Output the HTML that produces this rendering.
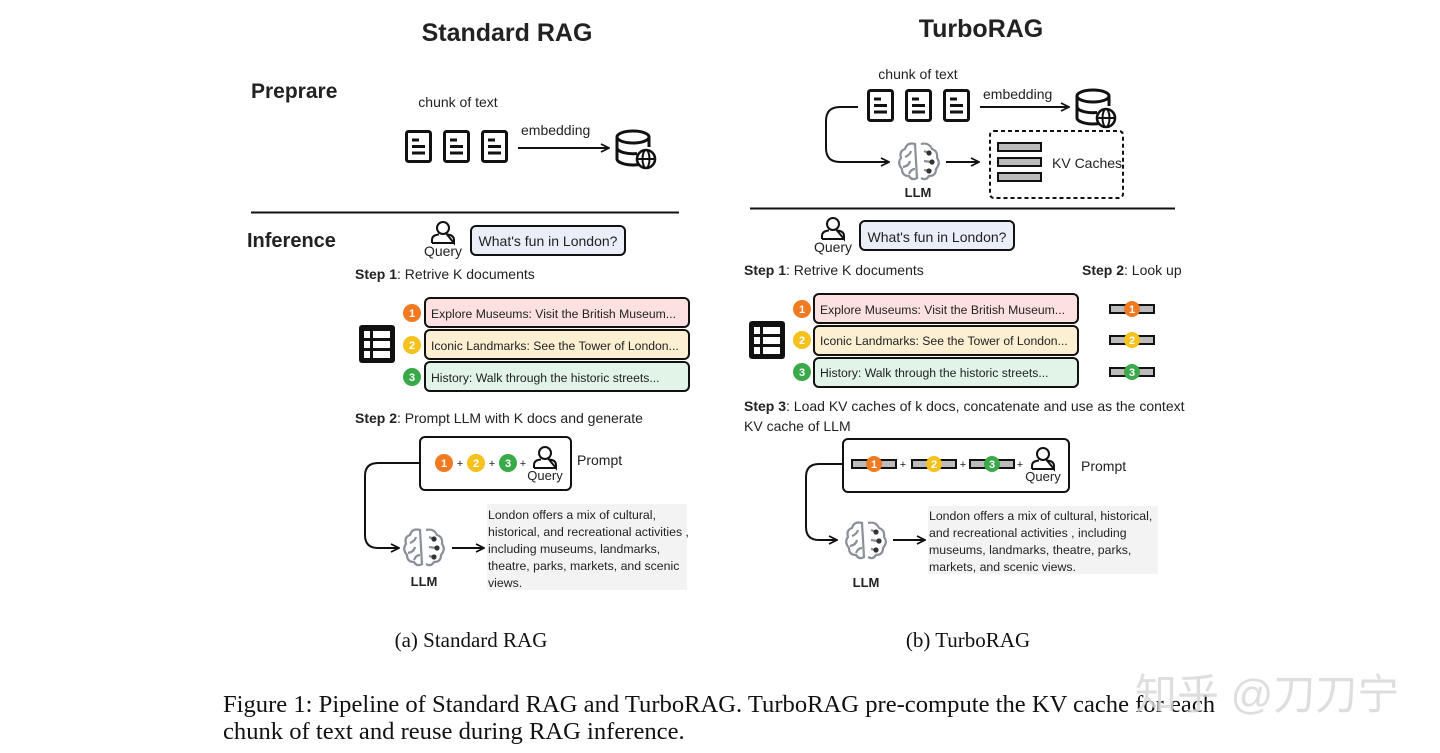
<!DOCTYPE html>
<html><head><meta charset="utf-8"><style>
html,body{margin:0;padding:0;background:#fff;}
svg{display:block}
text{font-family:"Liberation Sans","DejaVu Sans",sans-serif;fill:#222}
.b{font-weight:bold}
.serif{font-family:"Liberation Serif",serif;fill:#111}
</style></head><body>
<svg width="1440" height="753" viewBox="0 0 1440 753" xmlns="http://www.w3.org/2000/svg">
<defs>
<marker id="ar" viewBox="0 0 10 10" refX="9" refY="5" markerWidth="10" markerHeight="10" markerUnits="userSpaceOnUse" orient="auto"><path d="M1,1 L9,5 L1,9" fill="none" stroke="#111" stroke-width="1.8"/></marker>
<g id="doc"><rect x="1.5" y="1.5" width="24" height="30" rx="2" fill="#fff" stroke="#111" stroke-width="3"/><line x1="7" y1="10" x2="14" y2="10" stroke="#111" stroke-width="3"/><line x1="7" y1="16.5" x2="20" y2="16.5" stroke="#111" stroke-width="3"/><line x1="7" y1="23" x2="20" y2="23" stroke="#111" stroke-width="3"/></g>
<g id="db"><ellipse cx="18" cy="7" rx="16" ry="6" fill="#fff" stroke="#111" stroke-width="3"/><path d="M2,7 V29 A16,6 0 0 0 24,34.5 M2,18 A16,6 0 0 0 22,23.5 M34,7 V17" fill="none" stroke="#111" stroke-width="3"/><circle cx="31" cy="29" r="9" fill="#fff" stroke="#111" stroke-width="2.6"/><ellipse cx="31" cy="29" rx="3.5" ry="9" fill="none" stroke="#111" stroke-width="2"/><line x1="22" y1="29" x2="40" y2="29" stroke="#111" stroke-width="2"/></g>
<g id="person"><circle cx="0" cy="-5" r="6" fill="#fff" stroke="#111" stroke-width="2"/><path d="M-11,10 V7 Q-11,2 -4,1.5 M4,1.5 Q11,2 11,7 V10 Z M-11,10 H11" fill="none" stroke="#111" stroke-width="2"/></g>
<g id="table"><rect x="2" y="2" width="36" height="38" rx="3" fill="#111"/><rect x="7" y="8" width="6" height="7" fill="#fff"/><rect x="16" y="8" width="17" height="7" fill="#fff"/><rect x="7" y="18" width="6" height="7" fill="#fff"/><rect x="16" y="18" width="17" height="7" fill="#fff"/><rect x="7" y="28" width="6" height="7" fill="#fff"/><rect x="16" y="28" width="17" height="7" fill="#fff"/></g>
<g id="brain"><g fill="none" stroke="#8a9099" stroke-width="2.2"><path d="M-4,-17 Q-12,-19 -14,-12 Q-20,-10 -18,-3 Q-22,2 -17,8 Q-17,15 -10,15 Q-7,20 -2,17 Z"/><path d="M2,-17 Q10,-19 13,-12 Q19,-10 18,-3 Q22,2 17,8 Q17,15 10,15 Q7,20 2,17"/><path d="M-14,-4 Q-9,-6 -8,-10 M-16,6 Q-10,5 -9,0 M-10,13 Q-8,8 -4,8"/><path d="M5,-10 L10,-8 M5,0 L12,1 M5,9 L10,10"/></g><circle cx="10" cy="-8" r="2.6" fill="#333"/><circle cx="13" cy="1" r="2.6" fill="#333"/><circle cx="10" cy="10" r="2.6" fill="#333"/></g>
</defs>

<!-- LEFT -->
<text x="507" y="41" text-anchor="middle" class="b" font-size="25">Standard RAG</text>
<text x="251" y="98" class="b" font-size="21">Preprare</text>
<text x="458" y="107" text-anchor="middle" font-size="14">chunk of text</text>
<use href="#doc" x="405" y="130"/><use href="#doc" x="443" y="130"/><use href="#doc" x="481" y="130"/>
<text x="521" y="135" font-size="14">embedding</text>
<line x1="518" y1="148" x2="609" y2="148" stroke="#111" stroke-width="2" marker-end="url(#ar)"/>
<use href="#db" x="615" y="130"/>
<line x1="251" y1="212.5" x2="679" y2="212.5" stroke="#111" stroke-width="2"/>
<text x="247" y="247" class="b" font-size="20">Inference</text>
<use href="#person" x="443" y="233"/>
<text x="443" y="256" text-anchor="middle" font-size="14">Query</text>
<rect x="471" y="226" width="154" height="29" rx="5" fill="#e9eef8" stroke="#111" stroke-width="2"/>
<text x="548" y="246" text-anchor="middle" font-size="14">What's fun in London?</text>
<text x="355" y="279" font-size="14"><tspan class="b">Step 1</tspan>: Retrive K documents</text>
<use href="#table" x="357" y="323"/>
<rect x="425" y="298" width="264" height="29" rx="5" fill="#fde1e1" stroke="#111" stroke-width="2"/>
<rect x="425" y="330" width="264" height="29" rx="5" fill="#fdefd2" stroke="#111" stroke-width="2"/>
<rect x="425" y="362" width="264" height="29" rx="5" fill="#e2f4e8" stroke="#111" stroke-width="2"/>
<text x="431" y="318" font-size="12.2">Explore Museums: Visit the British Museum...</text>
<text x="431" y="350" font-size="12.2">Iconic Landmarks: See the Tower of London...</text>
<text x="431" y="382" font-size="12.2">History: Walk through the historic streets...</text>
<g font-size="11" font-weight="bold" text-anchor="middle">
<circle cx="412" cy="313" r="9" fill="#f07a22"/><text x="412" y="317" style="fill:#fff">1</text>
<circle cx="412" cy="345" r="9" fill="#f5c11c"/><text x="412" y="349" style="fill:#fff">2</text>
<circle cx="412" cy="377" r="9" fill="#3aa94a"/><text x="412" y="381" style="fill:#fff">3</text>
</g>
<text x="355" y="423" font-size="14"><tspan class="b">Step 2</tspan>: Prompt LLM with K docs and generate</text>
<rect x="420" y="437" width="151" height="53" rx="5" fill="#fff" stroke="#111" stroke-width="2"/>
<g font-size="11" font-weight="bold" text-anchor="middle">
<circle cx="444" cy="463" r="9" fill="#f07a22"/><text x="444" y="467" style="fill:#fff">1</text>
<circle cx="476" cy="463" r="9" fill="#f5c11c"/><text x="476" y="467" style="fill:#fff">2</text>
<circle cx="508" cy="463" r="9" fill="#3aa94a"/><text x="508" y="467" style="fill:#fff">3</text>
</g>
<g font-size="11" text-anchor="middle"><text x="460" y="467">+</text><text x="492" y="467">+</text><text x="523" y="467">+</text></g>
<use href="#person" x="545" y="458"/>
<text x="545" y="480" text-anchor="middle" font-size="13">Query</text>
<text x="577" y="465" font-size="14">Prompt</text>
<path d="M420,463 H378 Q365,463 365,476 V535 Q365,548 378,548 H399" fill="none" stroke="#111" stroke-width="2" marker-end="url(#ar)"/>
<use href="#brain" x="424" y="547"/>
<text x="424" y="586" text-anchor="middle" class="b" font-size="13">LLM</text>
<line x1="452" y1="548" x2="484" y2="548" stroke="#111" stroke-width="2" marker-end="url(#ar)"/>
<rect x="487" y="504" width="200" height="86" fill="#f3f3f3"/>
<g font-size="12.3"><text x="488" y="519">London offers a mix of cultural,</text><text x="488" y="536">historical, and recreational activities ,</text><text x="488" y="553">including museums, landmarks,</text><text x="488" y="570">theatre, parks, markets, and scenic</text><text x="488" y="587">views.</text></g>
<text x="471" y="647" text-anchor="middle" class="serif" font-size="21">(a) Standard RAG</text>

<!-- RIGHT -->
<text x="981" y="37" text-anchor="middle" class="b" font-size="25">TurboRAG</text>
<text x="918" y="79" text-anchor="middle" font-size="14">chunk of text</text>
<use href="#doc" x="867" y="89"/><use href="#doc" x="905" y="89"/><use href="#doc" x="943" y="89"/>
<text x="983" y="99" font-size="14">embedding</text>
<line x1="980" y1="107" x2="1069" y2="107" stroke="#111" stroke-width="2" marker-end="url(#ar)"/>
<use href="#db" x="1075" y="89"/>
<path d="M858,107 H840 Q826,107 826,121 V148 Q826,162 840,162 H889" fill="none" stroke="#111" stroke-width="2" marker-end="url(#ar)"/>
<use href="#brain" x="919" y="161"/>
<text x="918" y="197" text-anchor="middle" class="b" font-size="13">LLM</text>
<line x1="946" y1="162" x2="979" y2="162" stroke="#111" stroke-width="2" marker-end="url(#ar)"/>
<rect x="990" y="131" width="133" height="67" rx="4" fill="none" stroke="#111" stroke-width="2" stroke-dasharray="4,3"/>
<rect x="998" y="143" width="43" height="8" fill="#bbb" stroke="#111" stroke-width="2"/>
<rect x="998" y="158" width="43" height="8" fill="#bbb" stroke="#111" stroke-width="2"/>
<rect x="998" y="173" width="43" height="8" fill="#bbb" stroke="#111" stroke-width="2"/>
<text x="1052" y="168" font-size="14">KV Caches</text>
<line x1="750" y1="208.5" x2="1175" y2="208.5" stroke="#111" stroke-width="2"/>
<use href="#person" x="833" y="229"/>
<text x="833" y="252" text-anchor="middle" font-size="14">Query</text>
<rect x="860" y="221" width="154" height="29" rx="5" fill="#e9eef8" stroke="#111" stroke-width="2"/>
<text x="937" y="242" text-anchor="middle" font-size="14">What's fun in London?</text>
<text x="744" y="275" font-size="14"><tspan class="b">Step 1</tspan>: Retrive K documents</text>
<text x="1082" y="275" font-size="14"><tspan class="b">Step 2</tspan>: Look up</text>
<use href="#table" x="747" y="319"/>
<rect x="814" y="294" width="264" height="29" rx="5" fill="#fde1e1" stroke="#111" stroke-width="2"/>
<rect x="814" y="326" width="264" height="29" rx="5" fill="#fdefd2" stroke="#111" stroke-width="2"/>
<rect x="814" y="358" width="264" height="29" rx="5" fill="#e2f4e8" stroke="#111" stroke-width="2"/>
<text x="820" y="314" font-size="12.2">Explore Museums: Visit the British Museum...</text>
<text x="820" y="345" font-size="12.2">Iconic Landmarks: See the Tower of London...</text>
<text x="820" y="377" font-size="12.2">History: Walk through the historic streets...</text>
<rect x="1110" y="305" width="44" height="8" fill="#bbb" stroke="#111" stroke-width="2"/>
<rect x="1110" y="336" width="44" height="8" fill="#bbb" stroke="#111" stroke-width="2"/>
<rect x="1110" y="368" width="44" height="8" fill="#bbb" stroke="#111" stroke-width="2"/>
<g font-size="11" font-weight="bold" text-anchor="middle">
<circle cx="802" cy="309" r="9" fill="#f07a22"/><text x="802" y="313" style="fill:#fff">1</text>
<circle cx="802" cy="340" r="9" fill="#f5c11c"/><text x="802" y="344" style="fill:#fff">2</text>
<circle cx="802" cy="372" r="9" fill="#3aa94a"/><text x="802" y="376" style="fill:#fff">3</text>
<circle cx="1132" cy="309" r="8" fill="#f07a22"/><text x="1132" y="313" style="fill:#fff">1</text>
<circle cx="1132" cy="340" r="8" fill="#f5c11c"/><text x="1132" y="344" style="fill:#fff">2</text>
<circle cx="1132" cy="372" r="8" fill="#3aa94a"/><text x="1132" y="376" style="fill:#fff">3</text>
</g>
<text x="744" y="411" font-size="14"><tspan class="b">Step 3</tspan>: Load KV caches of k docs, concatenate and use as the context</text>
<text x="744" y="431" font-size="14">KV cache of LLM</text>
<rect x="843" y="439" width="226" height="53" rx="5" fill="#fff" stroke="#111" stroke-width="2"/>
<rect x="852" y="460" width="44" height="8" fill="#bbb" stroke="#111" stroke-width="2"/>
<rect x="912" y="460" width="44" height="8" fill="#bbb" stroke="#111" stroke-width="2"/>
<rect x="970" y="460" width="44" height="8" fill="#bbb" stroke="#111" stroke-width="2"/>
<g font-size="11" font-weight="bold" text-anchor="middle">
<circle cx="874" cy="464" r="8" fill="#f07a22"/><text x="874" y="468" style="fill:#fff">1</text>
<circle cx="934" cy="464" r="8" fill="#f5c11c"/><text x="934" y="468" style="fill:#fff">2</text>
<circle cx="992" cy="464" r="8" fill="#3aa94a"/><text x="992" y="468" style="fill:#fff">3</text>
</g>
<g font-size="11" text-anchor="middle"><text x="903" y="468">+</text><text x="963" y="468">+</text><text x="1020" y="468">+</text></g>
<use href="#person" x="1043" y="459"/>
<text x="1043" y="481" text-anchor="middle" font-size="13">Query</text>
<text x="1081" y="471" font-size="14">Prompt</text>
<path d="M843,464 H819 Q806,464 806,477 V527 Q806,540 819,540 H837" fill="none" stroke="#111" stroke-width="2" marker-end="url(#ar)"/>
<use href="#brain" x="866" y="540"/>
<text x="866" y="587" text-anchor="middle" class="b" font-size="13">LLM</text>
<line x1="893" y1="540" x2="925" y2="540" stroke="#111" stroke-width="2" marker-end="url(#ar)"/>
<rect x="928" y="506" width="230" height="68" fill="#f3f3f3"/>
<g font-size="12.3"><text x="929" y="520">London offers a mix of cultural, historical,</text><text x="929" y="537">and recreational activities , including</text><text x="929" y="554">museums, landmarks, theatre, parks,</text><text x="929" y="571">markets, and scenic views.</text></g>
<text x="968" y="647" text-anchor="middle" class="serif" font-size="21">(b) TurboRAG</text>

<!-- caption -->
<text x="223" y="712" class="serif" font-size="24.6">Figure 1: Pipeline of Standard RAG and TurboRAG. TurboRAG pre-compute the KV cache for each</text>
<text x="223" y="739" class="serif" font-size="24.6">chunk of text and reuse during RAG inference.</text>
<text x="1135" y="709" font-size="42" style="fill:#d8d8d8;font-family:'Liberation Sans','Noto Sans CJK SC',sans-serif" fill-opacity="0.85">知乎 @刀刀宁</text>
</svg>
</body></html>
